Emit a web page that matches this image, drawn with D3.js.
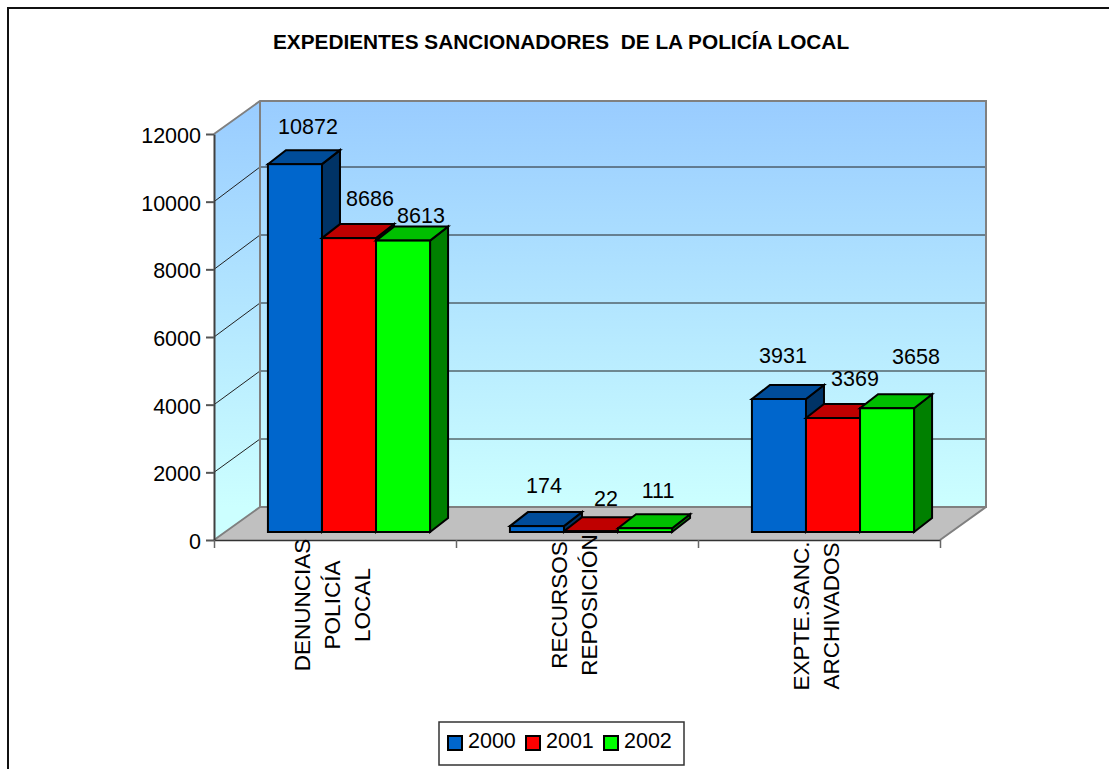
<!DOCTYPE html>
<html>
<head>
    <meta charset="utf-8">
    <title>expedientes_sancionadores</title>
    <script src="https://d3js.org/d3.v7.min.js"></script>
    <style>
        html, body { margin: 0; padding: 0; background: white; overflow: hidden; }
        svg { display: block; }
        text { font-family: "Liberation Sans", Arial, sans-serif; fill: black; }
    </style>
</head>
<body>
    <svg id="container" width="1109" height="769"></svg>
    <script>
        const titleText = "EXPEDIENTES SANCIONADORES  DE LA POLICÍA LOCAL"
        const categories = ["DENUNCIAS POLICÍA LOCAL", "RECURSOS REPOSICIÓN", "EXPTE.SANC. ARCHIVADOS"]
        const categoryLines = [["DENUNCIAS", "POLICÍA", "LOCAL"], ["RECURSOS", "REPOSICIÓN"], ["EXPTE.SANC.", "ARCHIVADOS"]]
        const years = ["2000", "2001", "2002"]
        const values2000 = [10872, 174, 3931]
        const values2001 = [8686, 22, 3369]
        const values2002 = [8613, 111, 3658]
        const yTicks = [0, 2000, 4000, 6000, 8000, 10000, 12000]

        // colours per series: front, top, side
        const fronts = ["#0066CC", "#FF0000", "#00FF00"]
        const tops = ["#004C99", "#BF0000", "#00BF00"]
        const sides = ["#003366", "#800000", "#008000"]

        // the value labels were moved by hand in the original, so each has its own offset
        const labelDx = [[13, 21, 18], [7, 15, 13], [4, 22, 29]]
        const labelDy = [[-30, -32, -18], [-33, -25, -30], [-36, -32, -44]]

        const allValues = [values2000, values2001, values2002]
        const svg = d3.select("#container")

        // plot box
        const plotLeft = 214, plotRight = 940, plotBottom = 540, plotTop = 134
        const depthX = 46, depthY = -33      // wall depth
        const barDepthX = 18, barDepthY = -14
        const barShiftX = 14, barShiftY = -8 // bars sit in the middle of the floor

        const y = d3.scaleLinear().domain([0, 12000]).range([plotBottom, plotTop])
        // the back wall grid is spaced a little wider than the front axis
        const yBack = d3.scaleLinear().domain([0, 12000]).range([plotBottom + depthY, 99])
        const x = d3.scaleBand().domain(categories).range([plotLeft, plotRight])
        const xBar = d3.scaleBand().domain(years).range([0, x.step() * 0.67])
        const groupPad = (x.step() - xBar.range()[1]) / 2

        const poly = pts => pts.map(p => p.join(",")).join(" ")

        // outer frame, only top and left are in the picture
        svg.append("path")
            .attr("d", "M8,769V8H1109")
            .attr("fill", "none")
            .attr("stroke", "#111")
            .attr("stroke-width", 2)

        svg.append("text")
            .attr("x", 561).attr("y", 49)
            .attr("text-anchor", "middle")
            .attr("font-weight", "bold")
            .attr("font-size", 20.8)
            .style("white-space", "pre")
            .text(titleText)

        // walls
        const grad = svg.append("defs").append("linearGradient")
            .attr("id", "wall")
            .attr("gradientUnits", "userSpaceOnUse")
            .attr("x1", 0).attr("x2", 0)
            .attr("y1", plotTop + depthY).attr("y2", plotBottom + depthY)
        grad.append("stop").attr("offset", 0).attr("stop-color", "#99CCFF")
        grad.append("stop").attr("offset", 1).attr("stop-color", "#CCFFFF")

        svg.append("polygon")
            .attr("points", poly([[plotLeft, plotTop], [plotLeft + depthX, plotTop + depthY], [plotLeft + depthX, plotBottom + depthY], [plotLeft, plotBottom]]))
            .attr("fill", "url(#wall)")
        svg.append("rect")
            .attr("x", plotLeft + depthX).attr("y", plotTop + depthY)
            .attr("width", plotRight - plotLeft).attr("height", plotBottom - plotTop)
            .attr("fill", "url(#wall)")

        // floor
        svg.append("polygon")
            .attr("points", poly([[plotLeft, plotBottom], [plotRight, plotBottom], [plotRight + depthX, plotBottom + depthY], [plotLeft + depthX, plotBottom + depthY]]))
            .attr("fill", "#C0C0C0")

        // grid lines, left wall then back wall
        svg.append("g").selectAll("path")
            .data(yTicks.slice(1, -1))
            .enter().append("path")
            .attr("d", d => `M${plotLeft},${y(d)}L${plotLeft + depthX},${yBack(d)}H${plotRight + depthX}`)
            .attr("fill", "none")
            .attr("stroke", "#222")
            .attr("stroke-width", 1)

        // wall edges
        svg.append("path")
            .attr("d", `M${plotLeft},${plotTop}L${plotLeft + depthX},${plotTop + depthY}H${plotRight + depthX}V${plotBottom + depthY}H${plotLeft + depthX}V${plotTop + depthY}`
                + `M${plotLeft},${plotBottom}L${plotLeft + depthX},${plotBottom + depthY}`
                + `M${plotRight},${plotBottom}L${plotRight + depthX},${plotBottom + depthY}`)
            .attr("fill", "none")
            .attr("stroke", "#808080")
            .attr("stroke-width", 2)

        // axes
        const yAxis = d3.axisLeft(y)
            .tickValues(yTicks)
            .tickFormat(d3.format("d"))
            .tickSize(8)
            .tickSizeOuter(0)
            .tickPadding(5)
        const yG = svg.append("g")
            .attr("transform", `translate(${plotLeft},0)`)
            .call(yAxis)
        yG.selectAll("text")
            .attr("font-size", 21.5)
            .attr("y", 1.5)
            .style("font-family", "Liberation Sans")
        yG.selectAll("line").attr("stroke", "#555").attr("stroke-width", 2)
        yG.select(".domain").attr("stroke", "#404040").attr("stroke-width", 2)

        const xTickScale = d3.scaleLinear().domain([0, categories.length]).range([plotLeft, plotRight])
        const xG = svg.append("g")
            .attr("transform", `translate(0,${plotBottom})`)
            .call(d3.axisBottom(xTickScale)
                .tickValues(d3.range(categories.length + 1))
                .tickFormat("")
                .tickSize(8)
                .tickSizeOuter(0))
        xG.selectAll("line").attr("stroke", "#666").attr("stroke-width", 1.5)
        xG.select(".domain").attr("stroke", "#333").attr("stroke-width", 1.5)

        // bars, left to right so that each one covers the side of the one before
        categories.forEach((cat, c) => {
            years.forEach((yr, s) => {
                let v = allValues[s][c]
                let x0 = x(cat) + groupPad + barShiftX + xBar(yr)
                let x1 = x0 + xBar.bandwidth()
                let y0 = y(v) + barShiftY
                let y1 = y(0) + barShiftY
                let bar = svg.append("g")
                    .attr("stroke", "black")
                    .attr("stroke-width", 2)
                    .attr("stroke-linejoin", "miter")
                bar.append("polygon")
                    .attr("points", poly([[x1, y0], [x1 + barDepthX, y0 + barDepthY], [x1 + barDepthX, y1 + barDepthY], [x1, y1]]))
                    .attr("fill", sides[s])
                bar.append("polygon")
                    .attr("points", poly([[x0, y0], [x1, y0], [x1 + barDepthX, y0 + barDepthY], [x0 + barDepthX, y0 + barDepthY]]))
                    .attr("fill", tops[s])
                bar.append("rect")
                    .attr("x", x0).attr("y", y0)
                    .attr("width", x1 - x0).attr("height", y1 - y0)
                    .attr("fill", fronts[s])
            })
        })

        // value labels go on top of everything
        categories.forEach((cat, c) => {
            years.forEach((yr, s) => {
                let v = allValues[s][c]
                svg.append("text")
                    .attr("x", x(cat) + groupPad + barShiftX + xBar(yr) + xBar.bandwidth() / 2 + labelDx[c][s])
                    .attr("y", y(v) + barShiftY + labelDy[c][s])
                    .attr("text-anchor", "middle")
                    .attr("font-size", 21.5)
                    .text(v)
            })
        })

        // category labels, rotated, centred line by line
        categories.forEach((cat, c) => {
            let lines = categoryLines[c]
            let mid = x(cat) + x.bandwidth() / 2 + 5
            lines.forEach((line, i) => {
                let bx = mid + (i - (lines.length - 1) / 2) * 30
                svg.append("text")
                    .attr("transform", `translate(${bx},${c == 2 ? 616 : 605}) rotate(-90)`)
                    .attr("text-anchor", "middle")
                    .attr("font-size", 22.5)
                    .text(line)
            })
        })

        // legend
        const legend = svg.append("g")
        legend.append("rect")
            .attr("x", 439).attr("y", 722)
            .attr("width", 245).attr("height", 43)
            .attr("fill", "white")
            .attr("stroke", "#333")
            .attr("stroke-width", 1.5)
        const legendX = d3.scalePoint().domain(years).range([448, 604])
        years.forEach((yr, s) => {
            legend.append("rect")
                .attr("x", legendX(yr)).attr("y", 736)
                .attr("width", 14).attr("height", 14)
                .attr("fill", fronts[s])
                .attr("stroke", "black")
                .attr("stroke-width", 2)
            legend.append("text")
                .attr("x", legendX(yr) + 20).attr("y", 748)
                .attr("font-size", 21.5)
                .text(yr)
        })
    </script>
</body>
</html>
